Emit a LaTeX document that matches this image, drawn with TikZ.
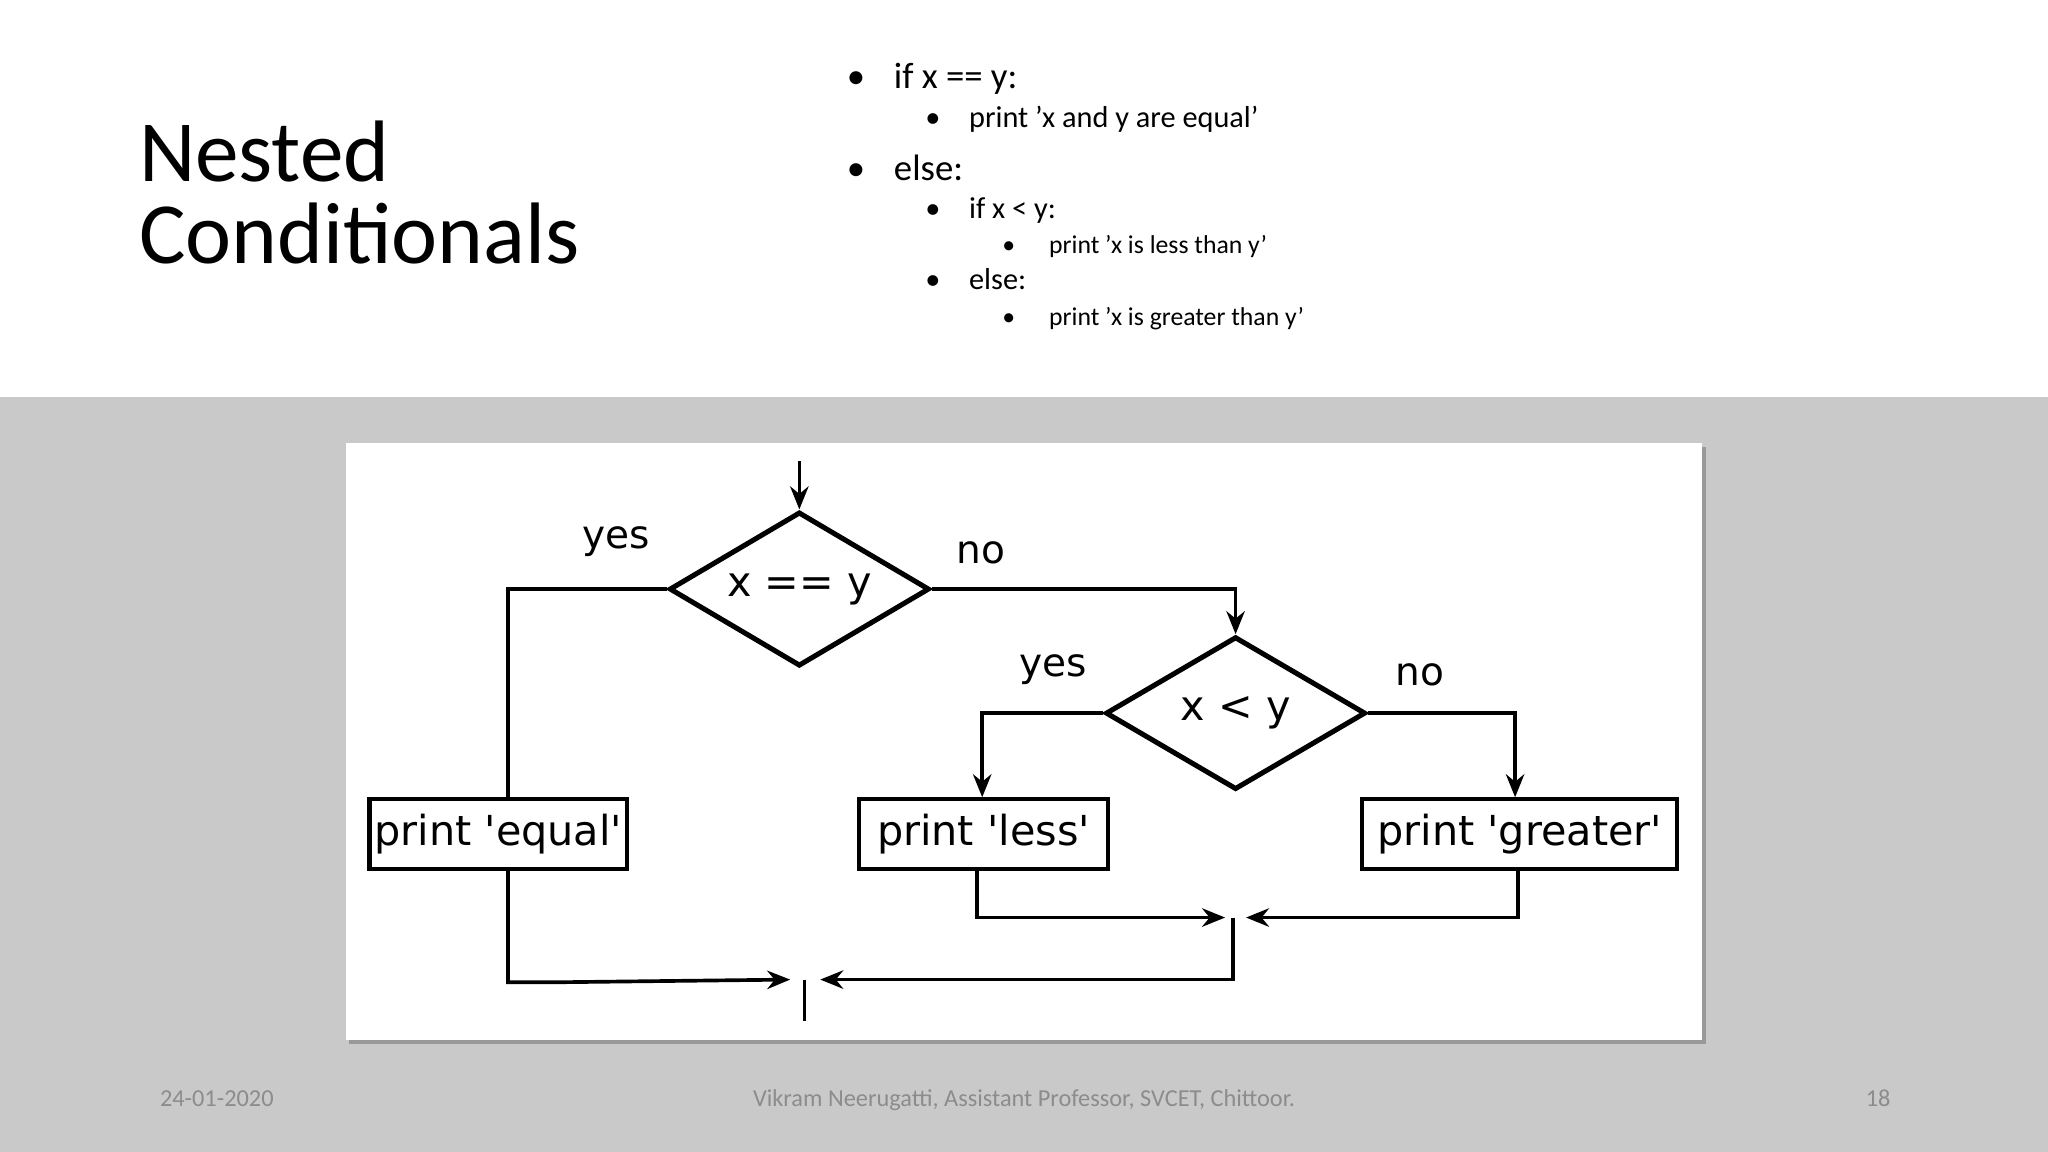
\documentclass[tikz,border=0pt]{standalone}
\usepackage{fontspec}
\setmainfont{Carlito}
\newfontfamily\fc{DejaVu Sans}
\usetikzlibrary{shapes.geometric,arrows.meta}
\begin{document}
\begin{tikzpicture}[x=0.01cm,y=-0.01cm,
  box/.style={draw,line width=0.9pt,minimum height=0.53cm,inner sep=0pt,font=\fc\fontsize{9}{10}\selectfont},
  dia/.style={draw,diamond,aspect=1.7,line width=1.1pt,inner sep=0pt,font=\fc\fontsize{9}{10}\selectfont},
  ln/.style={line width=0.8pt},
  ar/.style={ln,-{Stealth[length=5pt,width=4pt]}},
  lab/.style={font=\fc\fontsize{8.5}{10}\selectfont},
  b1/.style={anchor=base west,font=\fontsize{8}{10}\selectfont},
  b2/.style={anchor=base west,font=\fontsize{6.6}{8}\selectfont},
  b3/.style={anchor=base west,font=\fontsize{5.6}{7}\selectfont},
  foot/.style={anchor=base,text=black!45,font=\fontsize{5.3}{6}\selectfont}]
\useasboundingbox (0,0) rectangle (1568,882);
\fill[white] (0,0) rectangle (1568,304);
\fill[black!21] (0,304) rectangle (1568,882);
\fill[black!40] (267,342) rectangle (1306,799);
\fill[white] (265,339) rectangle (1303,796);
% title
\node[anchor=base west,font=\fontsize{19}{22}\selectfont,align=left] (t1) at (94,139) {Nested};
\node[anchor=base west,font=\fontsize{19}{22}\selectfont] (t2) at (94,202) {Conditionals};
% bullets
\node[b1] (l1) at (636,68) {\textbullet\hspace{2.2mm}if x == y:};
\node[b2] (l2) at (696,98) {\textbullet\hspace{2.2mm}print 'x and y are equal’};
\node[b1] (l3) at (636,138) {\textbullet\hspace{2.2mm}else:};
\node[b2] (l4) at (696,167) {\textbullet\hspace{2.2mm}if x < y:};
\node[b3] (l5) at (755,194) {\textbullet\hspace{2.6mm}print 'x is less than y’};
\node[b2] (l6) at (696,222) {\textbullet\hspace{2.2mm}else:};
\node[b3] (l7) at (755,249) {\textbullet\hspace{2.6mm}print 'x is greater than y'};
% footer
\node[foot] (f1) at (166,847) {24-01-2020};
\node[foot] (f2) at (784,847) {Vikram Neerugatti, Assistant Professor, SVCET, Chittoor.};
\node[foot] (f3) at (1438,847) {18};
% flowchart
\node[dia,minimum width=1.99cm,minimum height=1.18cm] (d1) at (612,451) {x == y};
\node[dia,minimum width=1.99cm,minimum height=1.17cm] (d2) at (946,546) {x < y};
\node[box,minimum width=1.97cm] (be) at (381.5,638.5) {print 'equal'};
\node[box,minimum width=1.90cm] (bl) at (753,638.5) {print 'less'};
\node[box,minimum width=2.41cm] (bg) at (1163.5,638.5) {print 'greater'};
\coordinate (top) at (612,353);
\coordinate (j1) at (946,702.5);
\coordinate (j2) at (616,750);
\coordinate (out) at (616,782);
\node[lab] (y1) at (472,415) {yes};
\node[lab] (n1) at (751,423) {no};
\node[lab] (y2) at (806,513) {yes};
\node[lab] (n2) at (1087,517) {no};
\draw[ar] (top) -- (d1.north);
\draw[ln] (d1.west) -| (be.north -| 389,0);
\draw[ar] (d1.east) -| (d2.north);
\draw[ar] (d2.west) -| (bl.north -| 752,0);
\draw[ar] (d2.east) -| (bg.north -| 1160,0);
\draw[ar] (bl.south -| 748,0) |- ([xshift=-0.08cm]j1);
\draw[ar] (bg.south -| 1162,0) |- ([xshift=0.08cm]j1);
\draw[ar] (944,702.5) |- ([xshift=0.12cm]j2);
\draw[ar] (be.south -| 389,0) |- (431,752) -- ([xshift=-0.11cm]j2);
\draw[ln] (j2) -- (out);
\end{tikzpicture}
\end{document}
